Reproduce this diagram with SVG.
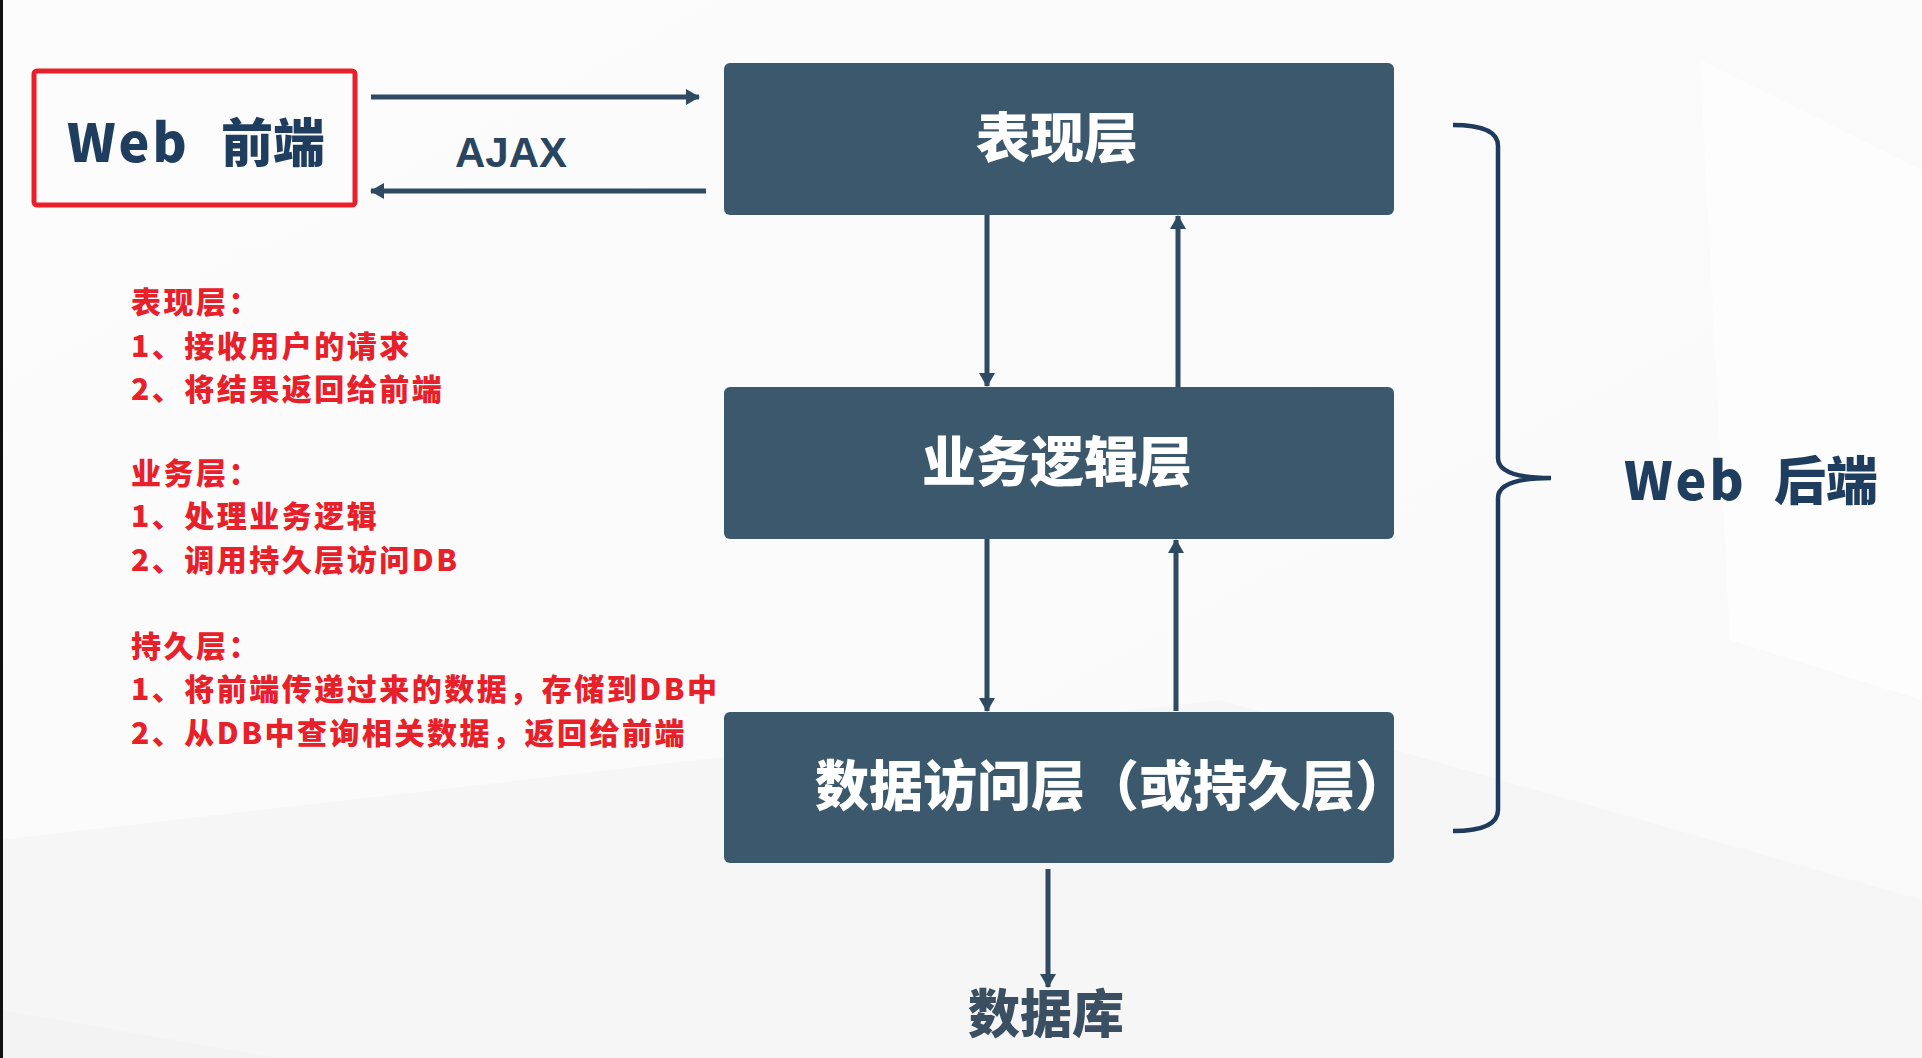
<svg xmlns="http://www.w3.org/2000/svg" width="1922" height="1058" viewBox="0 0 1922 1058">
  <defs>
    <style>
      .layer { fill: #3b586d; }
      .layer-text { font-family: "Noto Sans CJK SC", "Liberation Sans", sans-serif; font-weight: 900; fill: #ffffff; font-size: 54px; text-anchor: middle; }
      .navy-text { font-family: "Noto Sans CJK SC", "Liberation Sans", sans-serif; font-weight: 900; fill: #1f3d5e; }
      .note { font-family: "Noto Sans CJK SC", "Liberation Sans", sans-serif; font-weight: 900; fill: #e8202a; font-size: 30px; letter-spacing: 2.5px; }
      .conn { stroke: #2f4a63; stroke-width: 5; fill: none; }
    </style>
    <marker id="arrow" viewBox="0 0 14 16" refX="13" refY="8" markerWidth="14" markerHeight="16" markerUnits="userSpaceOnUse" orient="auto">
      <path d="M0,0 L14,8 L0,16 Z" fill="#2f4a63"/>
    </marker>
    <linearGradient id="bg" x1="0" y1="0" x2="1" y2="1">
      <stop offset="0" stop-color="#fcfcfc"/>
      <stop offset="1" stop-color="#f9f9f9"/>
    </linearGradient>
  </defs>

  <!-- background -->
  <rect x="0" y="0" width="1922" height="1058" fill="url(#bg)"/>
  <polygon points="0,840 1220,700 1922,900 1922,1058 0,1058" fill="#f6f6f6"/>
  <polygon points="1700,60 1922,170 1922,700 1730,640" fill="#fdfdfd"/>
  <polygon points="0,1010 280,1058 0,1058" fill="#f3f3f3"/>
  <rect x="0" y="0" width="3" height="1058" fill="#111111"/>

  <!-- Web frontend -->
  <g id="web-frontend">
    <rect x="34" y="71" width="321" height="134" rx="3" fill="none" stroke="#e8202a" stroke-width="5"/>
    <text class="navy-text" font-size="52" x="67" y="162" letter-spacing="3">Web</text>
    <text class="navy-text" font-size="52" x="221" y="162">前端</text>
  </g>

  <!-- AJAX label -->
  <g id="ajax-label">
    <text x="511" y="167" text-anchor="middle" font-family="Liberation Sans, sans-serif" font-weight="700" font-size="42" fill="#2a4560">AJAX</text>
  </g>

  <!-- Layers -->
  <g id="presentation-layer">
    <rect class="layer" x="724" y="63" width="670" height="152" rx="6"/>
    <text class="layer-text" x="1057" y="158">表现层</text>
  </g>
  <g id="business-layer">
    <rect class="layer" x="724" y="387" width="670" height="152" rx="6"/>
    <text class="layer-text" x="1057" y="482">业务逻辑层</text>
  </g>
  <g id="data-access-layer">
    <rect class="layer" x="724" y="712" width="670" height="151" rx="6"/>
    <text class="layer-text" style="text-anchor:start" font-size="52" x="815" y="806">数据访问层（或持久层）</text>
  </g>
  <g id="database">
    <text x="1046" y="1033" text-anchor="middle" font-family="Noto Sans CJK SC, sans-serif" font-weight="900" font-size="52" fill="#3a4f62">数据库</text>
  </g>

  <!-- Web backend brace + label -->
  <g id="web-backend">
    <path d="M1453,125 C1482,125 1498,132 1498,146 L1498,458 C1498,470 1512,478 1551,478 C1512,478 1498,486 1498,498 L1498,810 C1498,824 1482,831 1453,831" fill="none" stroke="#1e3a5c" stroke-width="4.5"/>
    <text class="navy-text" font-size="52" x="1624" y="500" letter-spacing="3">Web</text>
    <text class="navy-text" font-size="52" x="1774" y="500">后端</text>
  </g>

  <!-- Notes -->
  <g id="notes">
    <text class="note" x="131" y="313">表现层：</text>
    <text class="note" x="131" y="357">1、接收用户的请求</text>
    <text class="note" x="131" y="400">2、将结果返回给前端</text>
    <text class="note" x="131" y="484">业务层：</text>
    <text class="note" x="131" y="527">1、处理业务逻辑</text>
    <text class="note" x="131" y="571">2、调用持久层访问DB</text>
    <text class="note" x="131" y="657">持久层：</text>
    <text class="note" x="131" y="700">1、将前端传递过来的数据，存储到DB中</text>
    <text class="note" x="131" y="744">2、从DB中查询相关数据，返回给前端</text>
  </g>

  <!-- Connectors -->
  <g id="connectors">
    <line class="conn" x1="371" y1="97" x2="699" y2="97" marker-end="url(#arrow)"/>
    <line class="conn" x1="706" y1="191" x2="371" y2="191" marker-end="url(#arrow)"/>
    <line class="conn" x1="987" y1="215" x2="987" y2="386" marker-end="url(#arrow)"/>
    <line class="conn" x1="1178" y1="387" x2="1178" y2="216" marker-end="url(#arrow)"/>
    <line class="conn" x1="987" y1="539" x2="987" y2="711" marker-end="url(#arrow)"/>
    <line class="conn" x1="1176" y1="711" x2="1176" y2="540" marker-end="url(#arrow)"/>
    <line class="conn" x1="1048" y1="869" x2="1048" y2="987" marker-end="url(#arrow)"/>
  </g>
</svg>
